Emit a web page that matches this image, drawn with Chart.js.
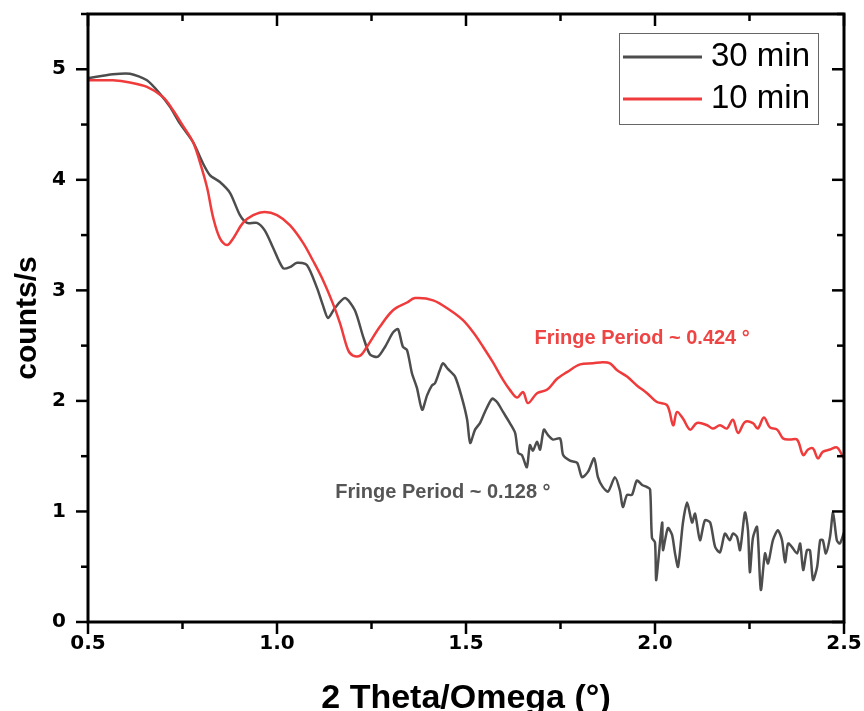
<!DOCTYPE html>
<html><head><meta charset="utf-8">
<script src="https://cdn.jsdelivr.net/npm/chart.js@4/dist/chart.umd.min.js"></script>
<style>html,body{margin:0;padding:0;background:#fff}#wrap{width:864px;height:711px}</style>
</head><body><div id="wrap"><canvas id="c" width="864" height="711"></canvas></div>
<script>
const seriesNames = ['30 min', '10 min'];
const seriesColors = ['#4d4d4d', '#ef3b3b'];

const x30 = [0.500,0.566,0.611,0.656,0.690,0.717,0.743,0.778,0.804,0.823,0.849,0.876,0.902,0.921,0.947,0.968,0.989,1.016,1.034,1.053,1.079,1.106,1.122,1.135,1.153,1.180,1.206,1.228,1.246,1.267,1.286,1.307,1.320,1.333,1.344,1.357,1.370,1.384,1.397,1.410,1.418,1.431,1.439,1.452,1.471,1.489,1.503,1.511,1.524,1.537,1.550,1.569,1.582,1.598,1.616,1.630,1.638,1.648,1.661,1.669,1.677,1.688,1.696,1.706,1.717,1.730,1.749,1.757,1.775,1.794,1.807,1.823,1.839,1.849,1.862,1.876,1.894,1.907,1.915,1.926,1.939,1.952,1.966,1.979,1.987,1.992,2.000,2.003,2.008,2.019,2.021,2.034,2.045,2.053,2.061,2.074,2.085,2.098,2.106,2.119,2.132,2.146,2.159,2.172,2.185,2.198,2.206,2.217,2.225,2.238,2.246,2.251,2.259,2.270,2.280,2.291,2.299,2.312,2.325,2.336,2.344,2.352,2.362,2.376,2.384,2.392,2.402,2.410,2.418,2.429,2.437,2.444,2.452,2.463,2.471,2.481,2.489,2.500];
const y30 = [4.92,4.955,4.96,4.90,4.78,4.66,4.51,4.34,4.15,4.04,3.98,3.88,3.68,3.61,3.61,3.54,3.39,3.20,3.21,3.25,3.23,3.02,2.86,2.75,2.84,2.93,2.82,2.58,2.42,2.40,2.49,2.62,2.65,2.49,2.46,2.25,2.12,1.92,2.05,2.14,2.16,2.28,2.34,2.29,2.22,2.03,1.83,1.62,1.74,1.80,1.90,2.02,1.99,1.90,1.80,1.71,1.53,1.51,1.40,1.60,1.55,1.63,1.56,1.74,1.69,1.65,1.66,1.51,1.46,1.44,1.31,1.36,1.48,1.31,1.22,1.18,1.31,1.19,1.04,1.15,1.15,1.28,1.24,1.22,1.20,0.76,0.72,0.38,0.53,0.90,0.65,0.85,0.79,0.62,0.50,0.90,1.08,0.90,0.98,0.74,0.92,0.90,0.68,0.63,0.80,0.74,0.80,0.77,0.65,0.99,0.83,0.45,0.76,0.86,0.29,0.62,0.53,0.74,0.83,0.74,0.54,0.71,0.68,0.62,0.71,0.47,0.65,0.65,0.38,0.50,0.74,0.74,0.62,0.77,0.99,0.74,0.71,0.81];

const x10 = [0.500,0.566,0.611,0.656,0.698,0.725,0.751,0.778,0.796,0.815,0.831,0.849,0.868,0.884,0.910,0.937,0.968,1.000,1.034,1.069,1.095,1.122,1.148,1.167,1.188,1.201,1.220,1.238,1.272,1.307,1.344,1.365,1.413,1.458,1.492,1.519,1.545,1.571,1.598,1.616,1.635,1.651,1.664,1.688,1.714,1.741,1.767,1.802,1.836,1.862,1.881,1.899,1.926,1.952,1.979,2.005,2.032,2.048,2.058,2.074,2.093,2.111,2.138,2.153,2.172,2.190,2.206,2.220,2.238,2.259,2.272,2.288,2.304,2.323,2.339,2.357,2.376,2.392,2.405,2.418,2.431,2.444,2.463,2.481,2.495,2.500];
const y10 = [4.90,4.90,4.88,4.84,4.75,4.63,4.49,4.34,4.16,3.93,3.66,3.47,3.41,3.47,3.61,3.68,3.71,3.68,3.59,3.43,3.27,3.09,2.88,2.70,2.46,2.41,2.41,2.49,2.67,2.82,2.89,2.93,2.91,2.82,2.73,2.62,2.49,2.35,2.19,2.10,2.03,2.08,1.98,2.07,2.10,2.20,2.26,2.33,2.34,2.35,2.34,2.28,2.22,2.14,2.07,1.99,1.96,1.78,1.90,1.84,1.74,1.80,1.78,1.75,1.78,1.75,1.83,1.71,1.81,1.80,1.75,1.85,1.76,1.74,1.66,1.65,1.65,1.51,1.56,1.57,1.48,1.54,1.56,1.58,1.51,1.48];

const xTicks = [0.5, 1.0, 1.5, 2.0, 2.5];
const yTicks = [0, 1, 2, 3, 4, 5];
const xTitle = '2 Theta/Omega (°)';
const yTitle = 'counts/s';
const notes = [
  {text: 'Fringe Period ~ 0.424 °', x: 1.966, y: 2.568, series: 1},
  {text: 'Fringe Period ~ 0.128 °', x: 1.439, y: 1.175, series: 0}
];

Chart.defaults.font.family = '"Liberation Sans", Arial, Helvetica, sans-serif';
Chart.defaults.color = '#000';
const tickFont = {family: '"DejaVu Sans", "Liberation Sans", sans-serif', size: 20, weight: 'bold', lineHeight: 1};

const framePlugin = {
  id: 'frame',
  afterDatasetsDraw(chart) {
    const {ctx, chartArea: a, scales: {x, y}} = chart;
    ctx.save();
    ctx.strokeStyle = '#000';
    ctx.lineWidth = 3;
    ctx.strokeRect(a.left, a.top, a.right - a.left, a.bottom - a.top);
    const line = (x1, y1, x2, y2) => { ctx.beginPath(); ctx.moveTo(x1, y1); ctx.lineTo(x2, y2); ctx.stroke(); };
    ctx.lineWidth = 2.5;
    for (let i = 0; i <= 8; i++) {
      const v = 0.5 + i * 0.25;
      const px = x.getPixelForValue(v);
      const L = (i % 2 === 0) ? 12 : 7;
      line(px, a.bottom, px, a.bottom + L);
      line(px, a.top, px, a.top + L);
    }
    for (let i = 0; i <= 11; i++) {
      const v = i * 0.5;
      const py = y.getPixelForValue(v);
      const L = (i % 2 === 0) ? 12 : 7;
      line(a.left - L, py, a.left, py);
      line(a.right - L, py, a.right, py);
    }
    // annotations
    ctx.font = 'bold 20px "Liberation Sans", Arial, sans-serif';
    ctx.textAlign = 'center';
    ctx.textBaseline = 'middle';
    notes.forEach(n => {
      ctx.fillStyle = n.series === 1 ? '#ef4444' : '#555555';
      ctx.fillText(n.text, x.getPixelForValue(n.x), y.getPixelForValue(n.y));
    });
    // legend
    const lx = 619, ly = 33, lw = 199, lh = 91;
    ctx.fillStyle = '#fff';
    ctx.fillRect(lx, ly, lw, lh);
    ctx.lineWidth = 1;
    ctx.strokeStyle = '#666';
    ctx.strokeRect(lx + 0.5, ly + 0.5, lw, lh);
    ctx.font = '33px "Liberation Sans", Arial, sans-serif';
    ctx.textAlign = 'left';
    ctx.textBaseline = 'middle';
    seriesNames.forEach((name, i) => {
      const yy = ly + 24 + i * 42;
      ctx.strokeStyle = seriesColors[i];
      ctx.lineWidth = 3;
      line(lx + 4, yy, lx + 83, yy);
      ctx.fillStyle = '#000';
      ctx.fillText(name, lx + 92, yy);
    });
    ctx.restore();
  }
};

const toPts = (xs, ys) => xs.map((v, i) => ({x: v, y: ys[i]}));

new Chart(document.getElementById('c'), {
  type: 'line',
  data: {
    datasets: [
      {label: seriesNames[0], data: toPts(x30, y30), borderColor: seriesColors[0], borderWidth: 2.5, pointRadius: 0, tension: 0.25, order: 1},
      {label: seriesNames[1], data: toPts(x10, y10), borderColor: seriesColors[1], borderWidth: 2.5, pointRadius: 0, tension: 0.35, order: 0}
    ]
  },
  options: {
    responsive: false,
    animation: false,
    devicePixelRatio: 1,
    layout: {padding: {left: 0, right: 20, top: 14, bottom: 0}},
    plugins: {legend: {display: false}, tooltip: {enabled: false}},
    scales: {
      x: {
        type: 'linear', min: 0.5, max: 2.5,
        afterBuildTicks: s => { s.ticks = xTicks.map(v => ({value: v})); },
        afterFit: s => { s.height = 89; s.paddingLeft = 0; s.paddingRight = 0; },
        ticks: {callback: v => Number(v).toFixed(1), font: tickFont, color: '#000', padding: 0, maxRotation: 0, autoSkip: false},
        grid: {display: true, drawOnChartArea: false, drawTicks: true, tickLength: 12, tickColor: 'rgba(0,0,0,0)', color: 'rgba(0,0,0,0)'},
        border: {display: false},
        title: {display: true, text: xTitle, font: {size: 34, weight: 'bold', lineHeight: 0.9}, color: '#000', padding: {top: 0, bottom: -3}}
      },
      y: {
        type: 'linear', min: 0, max: 5.5,
        afterBuildTicks: s => { s.ticks = yTicks.map(v => ({value: v})); },
        afterFit: s => { s.width = 88; s.paddingTop = 0; s.paddingBottom = 0; },
        ticks: {font: tickFont, color: '#000', padding: 10},
        grid: {display: true, drawOnChartArea: false, drawTicks: true, tickLength: 12, tickColor: 'rgba(0,0,0,0)', color: 'rgba(0,0,0,0)'},
        border: {display: false},
        title: {display: true, text: yTitle, font: {size: 30, weight: 'bold'}, color: '#000', padding: {top: 10, bottom: 0}}
      }
    }
  },
  plugins: [framePlugin]
});
</script>
</body></html>
